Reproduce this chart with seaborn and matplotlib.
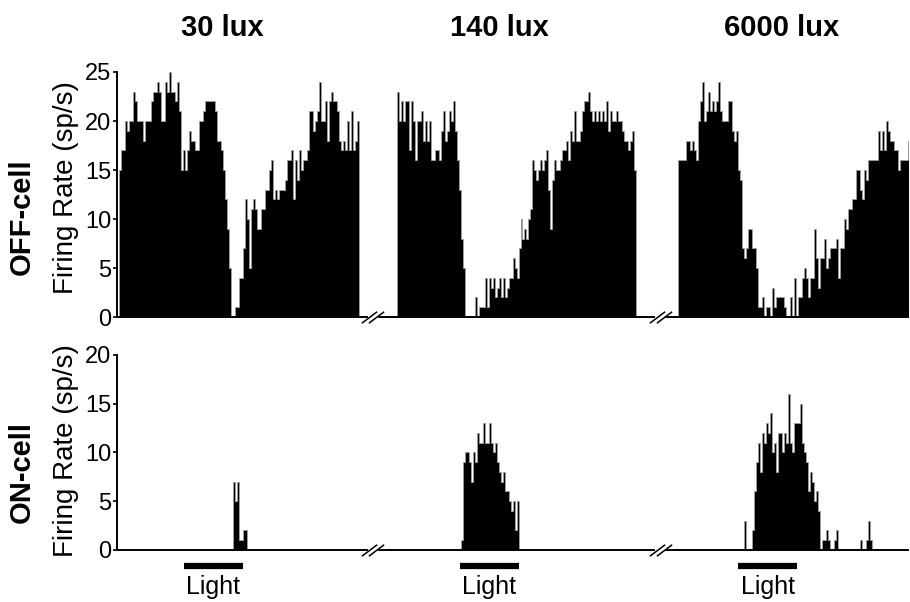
import numpy as np
import pandas as pd
import seaborn as sns
import matplotlib
matplotlib.use("Agg")
import matplotlib.pyplot as plt
from matplotlib.transforms import blended_transform_factory

sns.set_style("ticks")
plt.rcParams['font.family'] = ['Liberation Sans', 'DejaVu Sans']
plt.rcParams['text.color'] = 'black'
plt.rcParams['ytick.color'] = 'black'
plt.rcParams['axes.edgecolor'] = 'black'

# firing rate (sp/s) in 1 s bins, one list per light level
conditions = ["30 lux", "140 lux", "6000 lux"]
seg_offset = [0, 139, 280]          # where each recording starts on the broken time axis
break_at = [127, 271]               # "//" marks between recordings

off_30lux = [15, 17, 17, 20, 19, 20, 20, 23, 22, 20,
             20, 20, 18, 20, 20, 20, 22, 23, 23, 24,
             23, 20, 20, 24, 23, 25, 23, 23, 22, 24,
             21, 15, 17, 15, 17, 19, 18, 18, 17, 17,
             20, 20, 21, 22, 22, 22, 22, 22, 21, 18,
             18, 17, 15, 12, 9, 5, 0, 0, 1, 1,
             4, 4, 7, 12, 10, 5, 11, 12, 11, 9,
             9, 11, 11, 13, 13, 15, 16, 12, 13, 12,
             13, 13, 13, 14, 16, 16, 17, 12, 16, 14,
             17, 15, 16, 16, 17, 21, 21, 19, 20, 21,
             24, 20, 20, 22, 18, 22, 23, 22, 22, 21,
             18, 17, 18, 17, 20, 17, 21, 17, 18, 20]

off_140lux = [23, 20, 22, 20, 22, 22, 17, 22, 20, 16,
              20, 20, 21, 18, 20, 18, 20, 16, 16, 17,
              17, 16, 19, 21, 18, 19, 21, 20, 22, 19,
              16, 13, 8, 5, 0, 0, 0, 0, 0, 2,
              0, 1, 1, 1, 4, 1, 4, 3, 4, 2,
              3, 4, 2, 4, 2, 3, 4, 4, 6, 5,
              4, 7, 10, 8, 9, 8, 10, 11, 16, 15,
              14, 15, 16, 15, 16, 17, 13, 9, 14, 16,
              15, 15, 16, 17, 17, 18, 16, 19, 18, 21,
              18, 18, 19, 21, 22, 22, 23, 21, 20, 21,
              20, 21, 20, 21, 20, 22, 19, 21, 20, 20,
              21, 20, 20, 19, 18, 18, 17, 18, 19, 15]

off_6000lux = [16, 16, 16, 16, 18, 18, 17, 18, 17, 16,
               20, 22, 24, 20, 21, 23, 21, 22, 21, 22,
               24, 21, 20, 20, 20, 22, 22, 19, 18, 19,
               15, 14, 7, 6, 7, 9, 9, 7, 7, 5,
               1, 1, 2, 0, 1, 1, 0, 3, 1, 2,
               2, 2, 2, 1, 0, 0, 2, 0, 4, 0,
               2, 2, 4, 5, 4, 2, 4, 4, 9, 6,
               3, 6, 6, 8, 5, 6, 7, 7, 7, 8,
               4, 7, 7, 10, 9, 11, 11, 12, 12, 15,
               15, 13, 12, 15, 14, 16, 16, 16, 16, 16,
               19, 17, 19, 17, 20, 19, 18, 18, 17, 17,
               15, 16, 16, 16, 16, 18, 16]

# ON-cell is silent outside these stretches (first bin given separately)
on_30lux_start = 57
on_30lux = [7, 5, 7, 1, 1, 2, 2]
on_140lux_start = 32
on_140lux = [1, 9, 10, 10, 9, 7, 10, 9, 12, 11, 11, 13, 11, 11, 13,
             11, 10, 11, 9, 8, 7, 8, 6, 6, 5, 4, 5, 2, 5]
on_6000lux_start = 33
on_6000lux = [3, 0, 0, 0, 2, 6, 9, 11, 8, 12, 11, 13, 12, 14, 10, 11,
              8, 12, 12, 10, 12, 11, 16, 11, 10, 13, 13, 13, 15, 11,
              10, 9, 6, 8, 7, 5, 6, 4, 0, 1, 1, 2, 1, 0, 0, 1, 2, 0,
              0, 0, 0, 0, 0, 0, 0, 0, 0, 0, 1, 0, 0, 1, 3, 1]

light_on = [32.5, 31.5, 30]
light_off = [62, 61, 59.5]

off_data = [off_30lux, off_140lux, off_6000lux]
on_data = [(on_30lux_start, on_30lux), (on_140lux_start, on_140lux),
           (on_6000lux_start, on_6000lux)]


def draw_rate(ax, start, rates):
    n = len(rates)
    df = pd.DataFrame({"t": start + np.arange(n) + 0.5, "rate": rates})
    sns.histplot(data=df, x="t", weights="rate", binwidth=1,
                 binrange=(start, start + n), element="step",
                 fill=True, color="black", edgecolor="#a0a0a0", linewidth=0.6,
                 alpha=1, ax=ax)


def add_break(ax, xb):
    ax.plot([xb - 2.5, xb + 2.5], [0, 0], color="white", lw=3,
            clip_on=False, zorder=5, solid_capstyle="butt")
    ax.plot([xb - 1.6, xb + 1.6], [0, 0], ls="none", marker=[(-1, -0.75), (1, 0.75)],
            ms=11, mec="black", mew=1.1, clip_on=False, zorder=6)


fig = plt.figure(figsize=(9.1, 6.02), dpi=100)
ax_off = fig.add_axes([0.1286, 0.4734, 0.8692, 0.407])
ax_on = fig.add_axes([0.1286, 0.0864, 0.8692, 0.324])

for i in range(3):
    draw_rate(ax_off, seg_offset[i], off_data[i])
    start, rates = on_data[i]
    draw_rate(ax_on, seg_offset[i] + start, rates)

for ax, ymax in [(ax_off, 25), (ax_on, 20)]:
    ax.set_xlim(-1, 395)
    ax.set_ylim(0, ymax)
    ax.set_yticks(np.arange(0, ymax + 1, 5))
    ax.set_xticks([])
    ax.set_xlabel("")
    ax.set_ylabel("")
    sns.despine(ax=ax)
    for side in ["left", "bottom"]:
        ax.spines[side].set_linewidth(1.4)
    ax.tick_params(axis="y", labelsize=17, length=3, width=1.2, pad=1,
                   colors="black")
    for xb in break_at:
        add_break(ax, xb)

# titles above each recording
trans_top = blended_transform_factory(ax_off.transData, ax_off.transAxes)
for i, name in enumerate(conditions):
    ax_off.text(seg_offset[i] + 51.5, 1.18, name, transform=trans_top,
                ha="center", va="center", fontsize=21, fontweight="bold")

# light stimulus bars
trans_bot = blended_transform_factory(ax_on.transData, ax_on.transAxes)
for i in range(3):
    x0 = seg_offset[i] + light_on[i]
    x1 = seg_offset[i] + light_off[i]
    ax_on.plot([x0, x1], [-0.082, -0.082], color="black", lw=4.5,
               transform=trans_bot, clip_on=False, solid_capstyle="butt")
    ax_on.text((x0 + x1) / 2, -0.19, "Light", transform=trans_bot,
               ha="center", va="center", fontsize=18)

# row labels
ax_off.text(-0.0646, 0.53, "Firing Rate (sp/s)", transform=ax_off.transAxes,
            rotation=90, ha="center", va="center", fontsize=20)
ax_off.text(-0.120, 0.408, "OFF-cell", transform=ax_off.transAxes,
            rotation=90, ha="center", va="center", fontsize=21, fontweight="bold")
ax_on.text(-0.0646, 0.508, "Firing Rate (sp/s)", transform=ax_on.transAxes,
           rotation=90, ha="center", va="center", fontsize=20)
ax_on.text(-0.120, 0.40, "ON-cell", transform=ax_on.transAxes,
           rotation=90, ha="center", va="center", fontsize=21, fontweight="bold")

fig.savefig("out.png", dpi=100)
